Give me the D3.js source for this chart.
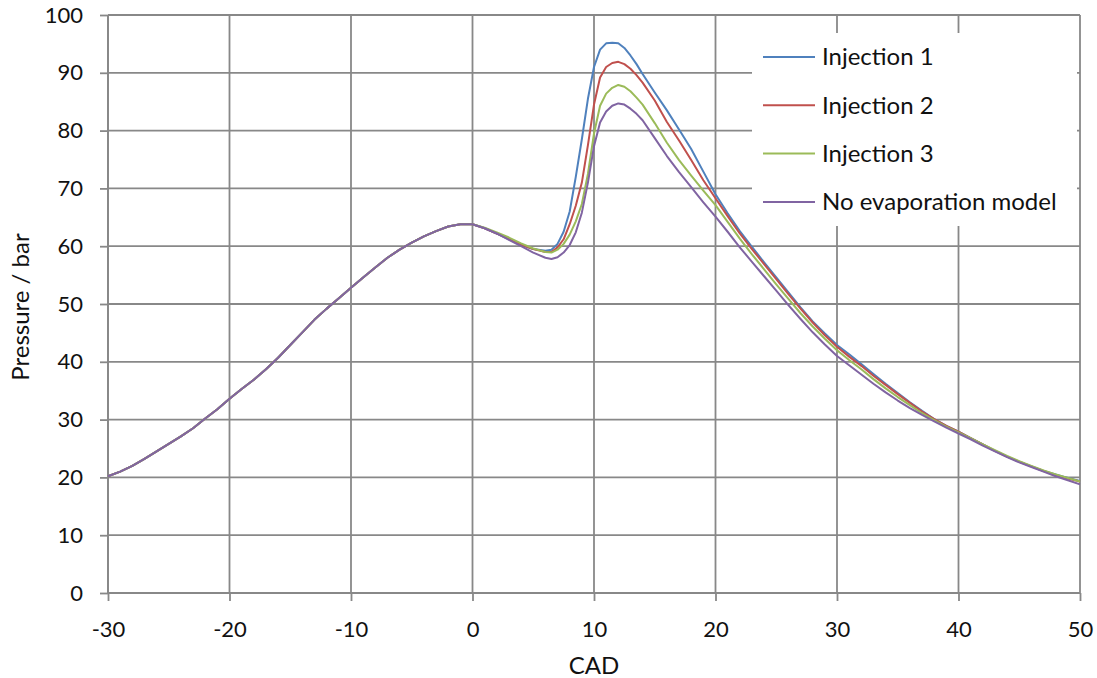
<!DOCTYPE html>
<html>
<head>
<meta charset="utf-8">
<script src="https://d3js.org/d3.v7.min.js"></script>
<style>
    body { margin: 0; background: #fff; }
    text { font-family: Lato, "Open Sans", sans-serif; fill: #111; }
</style>
</head>
<body>
<div id="chart-area"></div>
<script>

// crank angle (degrees) - 1 deg steps, 0.5 deg around the combustion peak
var cad = [-30, -29, -28, -27, -26, -25, -24, -23, -22, -21, -20, -19, -18, -17, -16, -15, -14, -13, -12, -11,
    -10, -9, -8, -7, -6, -5, -4, -3, -2, -1, 0, 1, 2, 3, 4, 5, 6,
    6.5, 7, 7.5, 8, 8.5, 9, 9.5, 10, 10.5, 11, 11.5, 12, 12.5, 13, 13.5, 14,
    15, 16, 17, 18, 19, 20, 21, 22, 23, 24, 25, 26, 27, 28, 29, 30, 31, 32, 33, 34, 35, 36, 37, 38, 39, 40,
    41, 42, 43, 44, 45, 46, 47, 48, 49, 50];

// compression part is the same for every run (-30 .. 0)
var compression = [20.2, 21.0, 22.0, 23.2, 24.5, 25.8, 27.1, 28.5, 30.2, 31.8, 33.6, 35.3, 36.9, 38.7, 40.7, 42.9,
    45.1, 47.3, 49.2, 51.0, 52.8, 54.6, 56.3, 58.0, 59.4, 60.6, 61.7, 62.6, 63.4, 63.8, 63.8];

var injection1 = [63.1, 62.2, 61.2, 60.2, 59.5, 59.2,
    59.4, 60.4, 62.5, 66.0, 72.0, 78.5, 85.5, 91.0, 94.0, 95.1, 95.2, 95.1, 94.3, 93.0, 91.5, 89.8,
    86.6, 83.5, 80.2, 76.8, 72.9, 69.0, 65.7, 62.6, 59.9, 57.2, 54.6, 52.0, 49.4, 47.0, 44.9, 42.9,
    41.3, 39.6, 37.9, 36.2, 34.6, 33.0, 31.5, 30.1, 28.9, 27.9, 26.8, 25.7, 24.6, 23.6, 22.7, 21.9,
    21.1, 20.5, 19.9, 19.4];

var injection2 = [63.1, 62.2, 61.3, 60.3, 59.5, 59.0,
    59.0, 59.8, 61.2, 63.8, 67.0, 71.0, 77.5, 84.5, 89.2, 91.0, 91.7, 91.9, 91.5, 90.7, 89.6, 88.3,
    85.2, 81.5, 78.3, 74.9, 71.4, 68.3, 65.2, 62.2, 59.5, 56.9, 54.3, 51.7, 49.2, 46.8, 44.6, 42.6,
    40.9, 39.3, 37.6, 36.0, 34.4, 32.9, 31.4, 30.1, 28.9, 27.9, 26.8, 25.7, 24.6, 23.6, 22.7, 21.9,
    21.1, 20.4, 19.8, 19.3];

var injection3 = [63.2, 62.4, 61.5, 60.5, 59.6, 59.0,
    58.9, 59.4, 60.4, 62.0, 64.3, 67.3, 72.5, 79.5, 84.3, 86.4, 87.4, 87.9, 87.6, 86.8, 85.7, 84.5,
    81.3, 77.9, 74.9, 72.2, 69.6, 67.1, 64.2, 61.3, 58.6, 56.0, 53.4, 50.9, 48.4, 46.1, 44.0, 42.0,
    40.3, 38.7, 37.0, 35.4, 33.9, 32.5, 31.1, 29.9, 28.8, 27.8, 26.8, 25.7, 24.7, 23.7, 22.8, 22.0,
    21.2, 20.5, 19.9, 19.3];

var noEvaporation = [63.1, 62.2, 61.1, 60.0, 58.9, 58.0,
    57.8, 58.1, 58.9, 60.2, 62.4, 65.8, 71.0, 77.3, 81.4, 83.3, 84.3, 84.7, 84.5, 83.8, 82.9, 81.8,
    78.7, 75.6, 72.8, 70.2, 67.6, 65.1, 62.5, 59.8, 57.3, 54.8, 52.3, 49.8, 47.4, 45.1, 43.0, 41.0,
    39.4, 37.8, 36.2, 34.7, 33.3, 32.0, 30.8, 29.7, 28.6, 27.6, 26.6, 25.5, 24.5, 23.5, 22.6, 21.8,
    21.0, 20.2, 19.5, 18.8];

var seriesNames = ["Injection 1", "Injection 2", "Injection 3", "No evaporation model"];
var seriesColors = ["#4f81bd", "#c0504d", "#9bbb59", "#8064a2"];

var xTicks = [-30, -20, -10, 0, 10, 20, 30, 40, 50];
var yTicks = [0, 10, 20, 30, 40, 50, 60, 70, 80, 90, 100];

// build one point list per series
var allSeries = [injection1, injection2, injection3, noEvaporation].map(function(values, i) {
    var full = compression.concat(values);
    return {
        name: seriesNames[i],
        color: seriesColors[i],
        points: cad.map(function(c, j) { return {x: c, y: full[j]}; })
    };
});

var margin = { top: 15, right: 17, bottom: 85, left: 108 };
var width = 1097 - margin.left - margin.right,
    height = 678 - margin.top - margin.bottom;
var gridColor = "#888888";

// SVG drawing area
var svg = d3.select("#chart-area").append("svg")
    .attr("width", 1097)
    .attr("height", 678)
    .append("g")
    .attr("transform", "translate(" + margin.left + "," + margin.top + ")");

var x = d3.scaleLinear().domain([-30, 50]).range([0, width]);
var y = d3.scaleLinear().domain([0, 100]).range([height, 0]);

// gridlines
svg.append("g")
    .selectAll("line.hgrid")
    .data(yTicks)
    .enter().append("line")
    .attr("class", "hgrid")
    .attr("x1", 0)
    .attr("x2", width)
    .attr("y1", function(d) { return y(d); })
    .attr("y2", function(d) { return y(d); })
    .attr("stroke", gridColor)
    .attr("stroke-width", 1.8);

svg.append("g")
    .selectAll("line.vgrid")
    .data(xTicks)
    .enter().append("line")
    .attr("class", "vgrid")
    .attr("x1", function(d) { return x(d); })
    .attr("x2", function(d) { return x(d); })
    .attr("y1", 0)
    .attr("y2", height)
    .attr("stroke", gridColor)
    .attr("stroke-width", 1.8);

// axes (plain hyphen for negatives, like the original)
var plain = function(d) { return String(d); };

var xAxis = svg.append("g")
    .attr("transform", "translate(0," + height + ")")
    .call(d3.axisBottom(x).tickValues(xTicks).tickSize(8).tickPadding(15).tickFormat(plain));

var yAxis = svg.append("g")
    .call(d3.axisLeft(y).tickValues(yTicks).tickSize(8).tickPadding(17).tickFormat(plain));

[xAxis, yAxis].forEach(function(ax) {
    ax.selectAll("path, line").attr("stroke", gridColor).attr("stroke-width", 1.8);
    ax.selectAll("text")
        .attr("font-size", "22px")
        .attr("fill", "#111");
});
xAxis.select(".domain").attr("d", "M0,0H" + width);
yAxis.select(".domain").attr("d", "M0," + height + "V0");
xAxis.selectAll("text").attr("dy", "0.95em");

// series lines
var line = d3.line()
    .x(function(d) { return x(d.x); })
    .y(function(d) { return y(d.y); });

svg.selectAll("path.series")
    .data(allSeries)
    .enter().append("path")
    .attr("class", "series")
    .attr("d", function(d) { return line(d.points); })
    .attr("fill", "none")
    .attr("stroke", function(d) { return d.color; })
    .attr("stroke-width", 2)
    .attr("stroke-linejoin", "round");

// axis titles
svg.append("text")
    .attr("x", width / 2)
    .attr("y", height + 81)
    .attr("text-anchor", "middle")
    .attr("font-size", "24px")
    .text("CAD");

svg.append("text")
    .attr("transform", "translate(" + (-79) + "," + (height / 2 + 3) + ") rotate(-90)")
    .attr("text-anchor", "middle")
    .attr("font-size", "24px")
    .text("Pressure / bar");

// legend
var legend = svg.append("g")
    .attr("transform", "translate(" + (752 - margin.left) + "," + (33 - margin.top) + ")");

legend.append("rect")
    .attr("width", 325)
    .attr("height", 193)
    .attr("fill", "#fff");

var items = legend.selectAll("g.item")
    .data(allSeries)
    .enter().append("g")
    .attr("class", "item")
    .attr("transform", function(d, i) { return "translate(0," + (24 + i * 48.3) + ")"; });

items.append("line")
    .attr("x1", 11)
    .attr("x2", 63)
    .attr("stroke", function(d) { return d.color; })
    .attr("stroke-width", 2);

items.append("text")
    .attr("x", 70)
    .attr("dy", "0.35em")
    .attr("font-size", "24px")
    .text(function(d) { return d.name; });

</script>
</body>
</html>
